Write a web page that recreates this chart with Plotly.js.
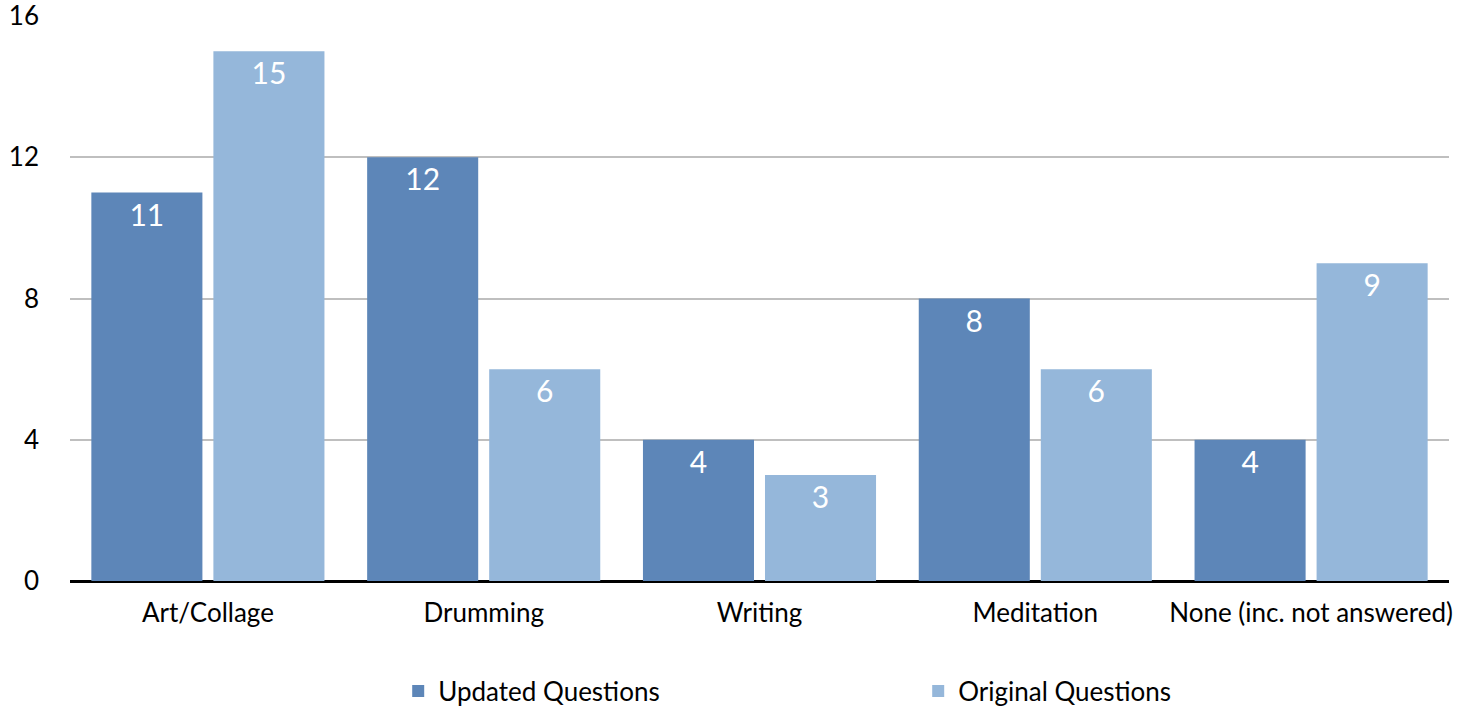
<!DOCTYPE html>
<html>
<head>
<meta charset="utf-8">
<script src="https://cdn.plot.ly/plotly-3.0.1.min.js"></script>
<style>html,body{margin:0;padding:0;background:#fff;}#chart{width:1477px;height:706px;}</style>
</head>
<body>
<div id="chart"></div>
<script>
const categories = ["Art/Collage", "Drumming", "Writing", "Meditation", "None (inc. not answered)"];
const updatedQuestions = [11, 12, 4, 8, 4];
const originalQuestions = [15, 6, 3, 6, 9];
const seriesNames = ["Updated Questions", "Original Questions"];
const yTicks = [0, 4, 8, 12, 16];

const FONT = "Lato, 'Open Sans', sans-serif";

const traces = [
  {
    type: "bar", name: seriesNames[0], x: categories, y: updatedQuestions,
    marker: {color: "#5d86b8"},
    text: updatedQuestions.map(String), textposition: "inside", insidetextanchor: "end",
    textangle: 0, textfont: {family: FONT, size: 30, color: "#ffffff"}, cliponaxis: false,
    hoverinfo: "x+y"
  },
  {
    type: "bar", name: seriesNames[1], x: categories, y: originalQuestions,
    marker: {color: "#95b7da"},
    text: originalQuestions.map(String), textposition: "inside", insidetextanchor: "end",
    textangle: 0, textfont: {family: FONT, size: 30, color: "#ffffff"}, cliponaxis: false,
    hoverinfo: "x+y"
  }
];

const layout = {
  width: 1477, height: 706,
  margin: {l: 70, r: 28, t: 16, b: 125, autoexpand: false},
  paper_bgcolor: "#ffffff", plot_bgcolor: "#ffffff",
  font: {family: FONT, size: 26, color: "#000000"},
  barmode: "group", bargap: 0.115, bargroupgap: 0.09,
  xaxis: {
    type: "category", showgrid: false, zeroline: false, automargin: false,
    showline: true, linecolor: "#000000", linewidth: 2,
    ticks: "", ticklabelstandoff: 8,
    tickfont: {family: FONT, size: 26, color: "#000000"}
  },
  yaxis: {
    range: [0, 16], tickvals: yTicks, ticktext: yTicks.map(String), automargin: false,
    showgrid: true, gridcolor: "#bfbfbf", gridwidth: 2,
    zeroline: true, zerolinecolor: "#000000", zerolinewidth: 2,
    showline: false, ticks: "", ticklabelstandoff: 30, ticklabeloverflow: "allow",
    tickfont: {family: FONT, size: 26, color: "#000000"}
  },
  showlegend: true,
  legend: {
    orientation: "h", x: 0.238, xanchor: "left", y: -0.195, yanchor: "middle",
    font: {family: FONT, size: 26, color: "#000000"},
    entrywidth: 475, entrywidthmode: "pixels", traceorder: "normal"
  }
};

Plotly.newPlot("chart", traces, layout, {displayModeBar: false, staticPlot: true});
</script>
</body>
</html>
